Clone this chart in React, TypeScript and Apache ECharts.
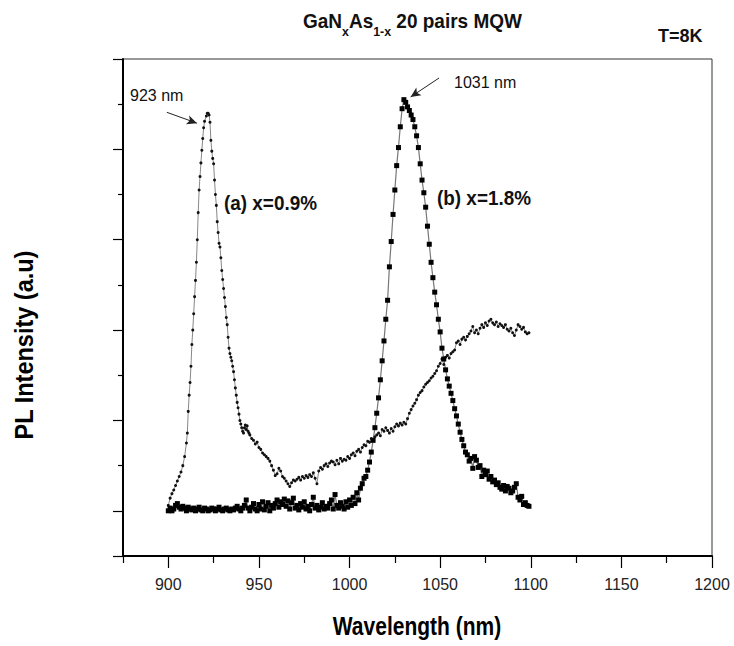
import React, { useEffect, useRef } from "react";
import * as echarts from "echarts";

const FONT = "'Liberation Sans Narrow', 'Liberation Sans', Arial, sans-serif";

const xMajorTicks = [900, 950, 1000, 1050, 1100, 1150, 1200];
const xMinorTicks = [875, 925, 975, 1025, 1075, 1125, 1175];
const yMajorTicks = [-0.5, 0, 1, 2, 3, 4, 5];
const yMinorTicks = [0.5, 1.5, 2.5, 3.5, 4.5];

// (a) x = 0.9 %
const aWavelength = [
  900, 901, 902, 903, 904, 905, 906, 907, 908, 909, 910, 910.5, 911, 911.5, 912, 912.5, 913, 913.5, 914, 914.5,
  915, 915.5, 916, 916.5, 917, 917.5, 918, 918.5, 919, 919.5, 920, 921, 921.5, 922, 922.5, 923, 923.5, 924, 924.5,
  925, 925.5, 926, 926.5, 927, 927.5, 928, 928.5, 929, 929.5, 930, 930.5, 931, 931.5, 932, 932.5, 933, 933.5, 934,
  934.5, 935, 935.5, 936, 936.5, 937, 937.5, 938, 938.5, 939, 939.5, 940, 940.5, 941, 941.5, 942, 942.5, 943, 943.5,
  944, 944.5, 945, 946, 947, 948, 949, 950, 951, 952, 953, 954, 955, 956, 957, 958, 959, 960, 961, 962, 963, 964,
  965, 966, 967, 968, 969, 970, 971, 972, 973, 974, 975, 976, 977, 978, 979, 980, 981, 982, 983, 984, 985, 986, 987,
  988, 989, 990, 991, 992, 993, 994, 995, 996, 997, 998, 999, 1000, 1001, 1002, 1003, 1004, 1005, 1006, 1007, 1008,
  1009, 1010, 1011, 1012, 1013, 1014, 1015, 1016, 1017, 1018, 1019, 1020, 1021, 1022, 1023, 1024, 1025, 1026, 1027,
  1028, 1029, 1030, 1031, 1032, 1033, 1034, 1035, 1036, 1037, 1038, 1039, 1040, 1041, 1042, 1043, 1044, 1045, 1046,
  1047, 1048, 1049, 1050, 1051, 1052, 1053, 1054, 1055, 1056, 1057, 1058, 1059, 1060, 1061, 1062, 1063, 1064, 1065,
  1066, 1067, 1068, 1069, 1070, 1071, 1072, 1073, 1074, 1075, 1076, 1077, 1078, 1079, 1080, 1081, 1082, 1083, 1084,
  1085, 1086, 1087, 1088, 1089, 1090, 1091, 1092, 1093, 1094, 1095, 1096, 1097, 1098, 1099,
];
const aIntensity = [
  0.06, 0.14, 0.19, 0.23, 0.28, 0.33, 0.38, 0.43, 0.5, 0.6, 0.75, 0.86, 1.1, 1.28, 1.42, 1.6, 1.84, 2.0, 2.18, 2.37,
  2.55, 2.75, 3.0, 3.3, 3.55, 3.7, 3.85, 3.99, 4.12, 4.24, 4.31, 4.37, 4.4, 4.4, 4.38, 4.3, 4.1, 3.98, 3.9,
  3.84, 3.66, 3.5, 3.38, 3.2, 3.08, 2.96, 2.92, 2.8, 2.66, 2.56, 2.46, 2.36, 2.26, 2.14, 2.06, 1.92, 1.8, 1.74,
  1.7, 1.66, 1.6, 1.54, 1.45, 1.36, 1.28, 1.2, 1.14, 1.07, 1.0, 0.96, 0.92, 0.88, 0.86, 0.92, 0.95, 0.9, 0.94,
  0.88, 0.86, 0.84, 0.8, 0.78, 0.74, 0.76, 0.7, 0.68, 0.64, 0.62, 0.6, 0.58, 0.55, 0.5, 0.45, 0.39, 0.41, 0.47, 0.44, 0.38, 0.36,
  0.33, 0.3, 0.27, 0.31, 0.34, 0.33, 0.35, 0.37, 0.34, 0.38, 0.36, 0.39, 0.37, 0.4, 0.38, 0.42, 0.36, 0.3, 0.44, 0.48, 0.46, 0.5, 0.52,
  0.49, 0.53, 0.55, 0.54, 0.51, 0.56, 0.52, 0.58, 0.55, 0.57, 0.56, 0.6, 0.58, 0.62, 0.64, 0.61, 0.66, 0.68, 0.65, 0.7, 0.73,
  0.72, 0.77, 0.76, 0.8, 0.79, 0.82, 0.84, 0.86, 0.83, 0.9, 0.88, 0.92, 0.89, 0.86, 0.91, 0.88, 0.93, 0.96, 0.94,
  0.97, 0.95, 0.98, 0.96, 1.02, 1.08, 1.12, 1.16, 1.19, 1.23, 1.28, 1.31, 1.33, 1.37, 1.4, 1.42, 1.44, 1.47, 1.49,
  1.52, 1.55, 1.6, 1.63, 1.68, 1.62, 1.7, 1.72, 1.69, 1.74, 1.76, 1.78, 1.86, 1.88, 1.84, 1.9, 1.92, 1.89, 1.93,
  1.96, 1.99, 2.04, 1.97, 2.0, 1.96, 2.02, 2.06, 2.03, 2.08, 2.05, 2.1, 2.12, 2.08, 2.06, 2.09, 2.04, 2.07, 2.05,
  2.03, 2.06, 2.01, 1.99, 2.02, 1.97, 1.94, 2.0, 2.06, 2.04, 2.01, 2.03, 1.98, 1.96, 1.97,
];

// (b) x = 1.8 %
const bWavelength = [
  900, 901, 902, 903, 904, 905, 906, 907, 908, 909, 910, 911, 912, 913, 914, 915, 916, 917, 918, 919, 920, 921, 922,
  923, 924, 925, 926, 927, 928, 929, 930, 931, 932, 933, 934, 935, 936, 937, 938, 939, 940, 941, 942, 943, 944, 945,
  946, 947, 948, 949, 950, 951, 952, 953, 954, 955, 956, 957, 958, 959, 960, 961, 962, 963, 964, 965, 966, 967, 968,
  969, 970, 971, 972, 973, 974, 975, 976, 977, 978, 979, 980, 981, 982, 983, 984, 985, 986, 987, 988, 989, 990, 991,
  992, 993, 994, 995, 996, 997, 998, 999, 1000, 1001, 1002, 1003, 1004, 1005, 1006, 1007, 1008, 1009, 1010, 1011,
  1012, 1013, 1014, 1015, 1016, 1017, 1018, 1019, 1020, 1021, 1022, 1023, 1024, 1025, 1026, 1027, 1028, 1029, 1030,
  1031, 1032, 1033, 1034, 1035, 1036, 1037, 1038, 1039, 1040, 1041, 1042, 1043, 1044, 1045, 1046, 1047, 1048, 1049,
  1050, 1051, 1052, 1053, 1054, 1055, 1056, 1057, 1058, 1059, 1060, 1061, 1062, 1063, 1064, 1065, 1066, 1067, 1068,
  1069, 1070, 1071, 1072, 1073, 1074, 1075, 1076, 1077, 1078, 1079, 1080, 1081, 1082, 1083, 1084, 1085, 1086, 1087,
  1088, 1089, 1090, 1091, 1092, 1093, 1094, 1095, 1096, 1097, 1098, 1099,
];
const bIntensity = [
  0.0, 0.03, 0.0, 0.02, 0.06, 0.08, 0.04, 0.02, 0.05, 0.03, 0.0, 0.04, 0.02, 0.01, 0.03, 0.0, 0.02, 0.04, 0.01, 0.0, 0.03, 0.02, 0.0,
  0.01, 0.03, 0.02, 0.0, 0.02, 0.04, 0.01, 0.0, 0.02, 0.03, 0.01, 0.0, 0.02, 0.01, 0.03, 0.05, 0.02, 0.0, 0.03, 0.06, 0.12, 0.03, 0.0,
  0.04, 0.08, 0.02, 0.0, 0.07, 0.02, 0.1, 0.01, 0.05, 0.09, 0.0, 0.06, 0.03, 0.08, 0.12, 0.04, 0.1, 0.07, 0.13, 0.05, 0.11, 0.02, 0.09,
  0.14, 0.03, 0.06, 0.01, 0.08, 0.04, 0.1, 0.02, 0.05, 0.0, 0.07, 0.15, 0.03, 0.06, 0.01, 0.04, 0.09, 0.02, 0.05, 0.03, 0.08, 0.12, 0.02,
  0.18, 0.06, 0.03, 0.09, 0.05, 0.02, 0.1, 0.04, 0.12, 0.06, 0.15, 0.08, 0.2, 0.12, 0.25, 0.3, 0.36, 0.38, 0.45, 0.54,
  0.65, 0.78, 0.92, 1.08, 1.25, 1.45, 1.66, 1.88, 2.12, 2.33, 2.7, 2.98, 3.28, 3.55, 3.82, 4.02, 4.25, 4.45, 4.55,
  4.52, 4.47, 4.43, 4.38, 4.33, 4.25, 4.15, 4.02, 3.84, 3.66, 3.52, 3.36, 3.15, 2.95, 2.75, 2.58, 2.42, 2.28, 2.12,
  1.98, 1.8, 1.68, 1.56, 1.46, 1.38, 1.3, 1.22, 1.13, 1.05, 0.96, 0.87, 0.79, 0.72, 0.65, 0.62, 0.55, 0.58, 0.47,
  0.6, 0.56, 0.48, 0.5, 0.38, 0.45, 0.4, 0.44, 0.35, 0.38, 0.32, 0.34, 0.29, 0.31, 0.26, 0.24, 0.28, 0.22, 0.27,
  0.25, 0.2, 0.22, 0.26, 0.3, 0.15, 0.12, 0.16, 0.07, 0.09, 0.06, 0.05,
];

// annotation arrows (data coordinates)
const arrowA = [[899.2, 4.41], [915.8, 4.29]];
const arrowB = [[1049.4, 4.79], [1033.7, 4.58]];

const zip = (xs: number[], ys: number[]) => xs.map((x, i) => [x, ys[i]]);

export default function App() {
  const ref = useRef<HTMLDivElement>(null);
  useEffect(() => {
    document.body.style.margin = "0";
    const chart = echarts.init(ref.current!, null, { renderer: "svg" });
    const arrowLine = (pts: number[][]) => ({
      silent: true,
      symbol: ["none", "arrow"],
      symbolSize: [7, 10],
      label: { show: false },
      lineStyle: { color: "#222", width: 1, type: "solid" },
      data: [[{ coord: pts[0] }, { coord: pts[1] }]],
    });
    chart.setOption({
      animation: false,
      backgroundColor: "#fff",
      grid: { left: 123, top: 59, right: 22, bottom: 90, show: true, borderColor: "#333", borderWidth: 1 },
      xAxis: [
        {
          type: "value",
          min: 875,
          max: 1200,
          interval: 25,
          position: "bottom",
          axisLine: { onZero: false, lineStyle: { color: "#000", width: 2 } },
          axisTick: { customValues: xMajorTicks, length: 12, lineStyle: { color: "#000", width: 1.2 } },
          axisLabel: {
            customValues: xMajorTicks,
            formatter: (v: number) => String(v),
            fontFamily: FONT,
            fontSize: 16,
            color: "#222",
            margin: 20,
          },
          splitLine: { show: false },
        },
        {
          type: "value",
          min: 875,
          max: 1200,
          interval: 25,
          position: "bottom",
          offset: 0,
          axisLine: { show: false, onZero: false },
          axisTick: { customValues: xMinorTicks, length: 7, lineStyle: { color: "#000", width: 1.2 } },
          axisLabel: { show: false },
          splitLine: { show: false },
        },
      ],
      yAxis: [
        {
          type: "value",
          min: -0.5,
          max: 5,
          interval: 0.5,
          position: "left",
          axisLine: { show: true, onZero: false, lineStyle: { color: "#000", width: 2 } },
          axisTick: { show: true, customValues: yMajorTicks, length: 10, lineStyle: { color: "#000", width: 1.2 } },
          axisLabel: { show: false },
          splitLine: { show: false },
        },
        {
          type: "value",
          min: -0.5,
          max: 5,
          interval: 0.5,
          position: "left",
          offset: 0,
          axisLine: { show: false, onZero: false },
          axisTick: { show: true, customValues: yMinorTicks, length: 5, lineStyle: { color: "#000", width: 1.2 } },
          axisLabel: { show: false },
          splitLine: { show: false },
        },
      ],
      series: [
        {
          name: "(a) x=0.9%",
          type: "line",
          data: zip(aWavelength, aIntensity),
          symbol: "circle",
          symbolSize: 3,
          showSymbol: true,
          showAllSymbol: true,
          itemStyle: { color: "#111" },
          lineStyle: { color: "#888", width: 1 },
          markLine: arrowLine(arrowA),
        },
        {
          name: "(b) x=1.8%",
          type: "line",
          data: zip(bWavelength, bIntensity),
          symbol: "rect",
          symbolSize: 5,
          showSymbol: true,
          showAllSymbol: true,
          itemStyle: { color: "#000" },
          lineStyle: { color: "#777", width: 1.2 },
          markLine: arrowLine(arrowB),
        },
      ],
      graphic: [
        {
          type: "text",
          x: 303,
          y: 3,
          scaleX: 0.95,
          style: {
            text: "GaN{sub|x}As{sub|1-x} 20 pairs MQW",
            fontFamily: FONT,
            fontSize: 20,
            fontWeight: "bold",
            fill: "#111",
            rich: {
              sub: { fontFamily: FONT, fontSize: 13, fontWeight: "bold", fill: "#111", padding: [22, 0, 0, 0] },
            },
          },
        },
        {
          type: "text",
          x: 658,
          y: 36,
          style: { text: "T=8K", fontFamily: FONT, fontSize: 18, fontWeight: "bold", fill: "#111", textVerticalAlign: "middle" },
        },
        {
          type: "text",
          x: 24,
          y: 345,
          rotation: Math.PI / 2,
          scaleX: 0.94,
          style: {
            text: "PL Intensity (a.u)",
            fontFamily: FONT,
            fontSize: 25,
            fontWeight: "bold",
            fill: "#000",
            textAlign: "center",
            textVerticalAlign: "middle",
          },
        },
        {
          type: "text",
          x: 417,
          y: 626,
          scaleX: 0.84,
          style: {
            text: "Wavelength (nm)",
            fontFamily: FONT,
            fontSize: 25,
            fontWeight: "bold",
            fill: "#000",
            textAlign: "center",
            textVerticalAlign: "middle",
          },
        },
        {
          type: "text",
          x: 130,
          y: 95,
          style: { text: "923 nm", fontFamily: FONT, fontSize: 16, fill: "#111", textVerticalAlign: "middle" },
        },
        {
          type: "text",
          x: 454,
          y: 82,
          style: { text: "1031 nm", fontFamily: FONT, fontSize: 16, fill: "#111", textVerticalAlign: "middle" },
        },
        {
          type: "text",
          x: 224,
          y: 203,
          scaleX: 0.9,
          style: { text: "(a) x=0.9%", fontFamily: FONT, fontSize: 21, fontWeight: "bold", fill: "#111", textVerticalAlign: "middle" },
        },
        {
          type: "text",
          x: 437,
          y: 198,
          scaleX: 0.9,
          style: { text: "(b) x=1.8%", fontFamily: FONT, fontSize: 21, fontWeight: "bold", fill: "#111", textVerticalAlign: "middle" },
        },
      ],
    });
    return () => chart.dispose();
  }, []);
  return <div ref={ref} style={{ width: 734, height: 646 }} />;
}
